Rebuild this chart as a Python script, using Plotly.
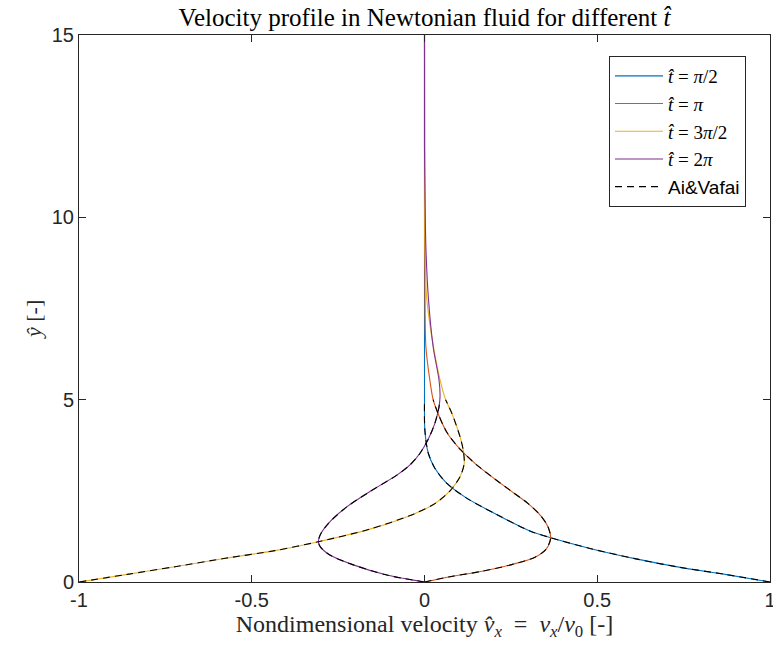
import plotly.graph_objects as go

# ---- data ----
blue_x = [1.0, 0.870, 0.740, 0.609, 0.479, 0.363, 0.305, 0.209, 0.122, 0.064, 0.030, 0.011, 0.001, 0.0, 0.0, 0.0]
blue_y = [0.0, 0.21, 0.40, 0.64, 0.92, 1.22, 1.40, 1.85, 2.30, 2.71, 3.12, 3.53, 4.17, 5.0, 5.54, 15.0]

red_x = [0.0, 0.074, 0.170, 0.257, 0.320, 0.352, 0.365, 0.358, 0.338, 0.300, 0.250, 0.200, 0.150, 0.105, 0.065, 0.040, 0.025, 0.016, 0.004, 0.001, 0.0]
red_y = [0.0, 0.145, 0.30, 0.49, 0.68, 0.90, 1.20, 1.50, 1.80, 2.15, 2.50, 2.85, 3.22, 3.62, 4.10, 4.60, 5.0, 5.50, 6.45, 8.75, 15.0]

yellow_x = [-1.0, -0.860, -0.722, -0.577, -0.433, -0.307, -0.158, -0.032, 0.030, 0.074, 0.103, 0.115, 0.112, 0.103, 0.079, 0.061, 0.045, 0.021, 0.006, 0.0015, 0.0, 0.0]
yellow_y = [0.0, 0.21, 0.42, 0.65, 0.86, 1.105, 1.45, 1.86, 2.15, 2.50, 2.89, 3.25, 3.62, 3.98, 4.63, 5.0, 5.54, 6.73, 7.82, 9.19, 10.4, 15.0]

purple_x = [0.0, -0.109, -0.206, -0.274, -0.302, -0.307, -0.302, -0.278, -0.225, -0.158, -0.080, -0.042, -0.013, 0.010, 0.030, 0.042, 0.045, 0.042, 0.025, 0.011, 0.004, 0.0015, 0.0, 0.0]
purple_y = [0.0, 0.19, 0.47, 0.74, 0.97, 1.105, 1.29, 1.61, 2.06, 2.48, 2.93, 3.21, 3.53, 3.90, 4.35, 4.80, 5.10, 5.54, 6.45, 7.82, 9.19, 10.56, 11.94, 15.0]

# Ai&Vafai reference solution (dashed), read up to y = 5
av_blue_x = [1.0, 0.870, 0.740, 0.609, 0.479, 0.363, 0.305, 0.209, 0.122, 0.064, 0.030, 0.011, 0.001, 0.0]
av_blue_y = [0.0, 0.21, 0.40, 0.64, 0.92, 1.22, 1.40, 1.85, 2.30, 2.71, 3.12, 3.53, 4.17, 5.0]
av_red_x = [0.0, 0.074, 0.170, 0.257, 0.320, 0.352, 0.365, 0.358, 0.338, 0.300, 0.250, 0.200, 0.150, 0.105, 0.065, 0.040, 0.025]
av_red_y = [0.0, 0.145, 0.30, 0.49, 0.68, 0.90, 1.20, 1.50, 1.80, 2.15, 2.50, 2.85, 3.22, 3.62, 4.10, 4.60, 5.0]
av_yellow_x = [-1.0, -0.860, -0.722, -0.577, -0.433, -0.307, -0.158, -0.032, 0.030, 0.074, 0.103, 0.115, 0.112, 0.103, 0.079, 0.061]
av_yellow_y = [0.0, 0.21, 0.42, 0.65, 0.86, 1.105, 1.45, 1.86, 2.15, 2.50, 2.89, 3.25, 3.62, 3.98, 4.63, 5.0]
av_purple_x = [0.0, -0.109, -0.206, -0.274, -0.302, -0.307, -0.302, -0.278, -0.225, -0.158, -0.080, -0.042, -0.013, 0.010, 0.030, 0.042, 0.044]
av_purple_y = [0.0, 0.19, 0.47, 0.74, 0.97, 1.105, 1.29, 1.61, 2.06, 2.48, 2.93, 3.21, 3.53, 3.90, 4.35, 4.80, 5.0]

series_names = ["<i>t̂</i> = <i>π</i>/2", "<i>t̂</i> = <i>π</i>", "<i>t̂</i> = 3<i>π</i>/2", "<i>t̂</i> = 2<i>π</i>"]
series_colors = ["#0072BD", "#D95319", "#EDB120", "#7E2F8E"]

x_tickvals = [-1, -0.5, 0, 0.5, 1]
x_ticktext = ["-1", "-0.5", "0", "0.5", "1"]
y_tickvals = [0, 5, 10, 15]
y_ticktext = ["0", "5", "10", "15"]

fig = go.Figure()
for xs, ys, name, col in zip([blue_x, red_x, yellow_x, purple_x],
                             [blue_y, red_y, yellow_y, purple_y],
                             series_names, series_colors):
    fig.add_trace(go.Scatter(x=xs, y=ys, mode="lines", name=name,
                             line=dict(color=col, width=1.1, shape="spline", smoothing=0.8)))

av_x, av_y = [], []
for xs, ys in [(av_blue_x, av_blue_y), (av_red_x, av_red_y), (av_yellow_x, av_yellow_y), (av_purple_x, av_purple_y)]:
    av_x += xs + [None]
    av_y += ys + [None]
fig.add_trace(go.Scatter(x=av_x, y=av_y, mode="lines",
                         name='<span style="font-family:Liberation Sans">Ai&amp;Vafai</span>',
                         line=dict(color="black", width=1.1, dash="7px,5px", shape="spline", smoothing=0.8),
                         connectgaps=False))

axis_common = dict(showline=True, linecolor="#262626", linewidth=1, mirror="ticks",
                   ticks="inside", ticklen=7, tickcolor="#262626", showgrid=False, zeroline=False,
                   ticklabeloverflow="allow", automargin=False,
                   tickfont=dict(family="Liberation Sans", size=20, color="#262626"))

fig.update_layout(
    width=773, height=653, autosize=False,
    margin=dict(l=79, r=3, t=35, b=71),
    plot_bgcolor="white", paper_bgcolor="white",
    title=dict(text="Velocity profile in Newtonian fluid for different <i>t̂</i>",
               x=0.5, xref="paper", xanchor="center", y=1 - 17 / 653, yref="container", yanchor="middle",
               font=dict(family="Liberation Serif", size=25, color="black")),
    xaxis=dict(range=[-1, 1], tickvals=x_tickvals, ticktext=x_ticktext,
               title=dict(text="Nondimensional velocity <i>v̂</i><sub><i>x</i></sub>\u2002=\u2002<i>v</i><sub><i>x</i></sub>/<i>v</i><sub>0</sub> [-]",
                          font=dict(family="Liberation Serif", size=24, color="#262626"), standoff=4),
               **axis_common),
    yaxis=dict(range=[0, 15], tickvals=y_tickvals, ticktext=y_ticktext, **axis_common),
    annotations=[dict(text="<i>ŷ</i> [-]", textangle=-90, xref="paper", yref="paper",
                      x=(33 - 79) / 691, y=(582 - 320) / 547, xanchor="center", yanchor="middle",
                      showarrow=False, font=dict(family="Liberation Serif", size=22, color="#262626"))],
    legend=dict(x=(609 - 79) / 691, y=(582 - 56) / 547, xanchor="left", yanchor="top",
                bordercolor="#262626", borderwidth=1, bgcolor="white",
                font=dict(family="Liberation Serif", size=19, color="black"),
                itemwidth=48, tracegroupgap=0),
    showlegend=True,
)

fig.write_html("out.html")
